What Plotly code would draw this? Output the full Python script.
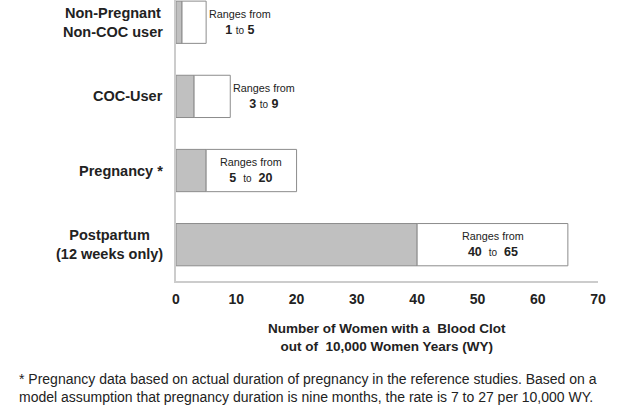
import plotly.graph_objects as go

# data
groups = ["Non-Pregnant<br>Non-COC user", "COC-User", "Pregnancy *",
          "Postpartum<br>(12 weeks only)"]
low = [1, 3, 5, 40]
high = [5, 9, 20, 65]
x_ticks = [0, 10, 20, 30, 40, 50, 60, 70]
label_inside = [False, False, True, True]

ypos = list(range(len(groups)))
extra = [h - l for l, h in zip(low, high)]

FONT = "Liberation Sans, Arial, sans-serif"

fig = go.Figure()
fig.add_trace(go.Bar(
    y=ypos, x=low, orientation="h", width=0.57,
    marker=dict(color="#c0c0c0", line=dict(color="#8c8c8c", width=1)),
    hoverinfo="skip"))
fig.add_trace(go.Bar(
    y=ypos, x=extra, base=low, orientation="h", width=0.57,
    marker=dict(color="#ffffff", line=dict(color="#8c8c8c", width=1)),
    hoverinfo="skip"))

# range labels
for i, (l, h) in enumerate(zip(low, high)):
    gap = "&nbsp; " if label_inside[i] else " "
    txt = ("<span style='font-size:10.8px'>Ranges from</span><br>"
           f"<b>{l}</b>{gap}<span style='font-size:10px'>to</span>{gap}<b>{h}</b>")
    if label_inside[i]:
        fig.add_annotation(x=(l + h) / 2, y=i, text=txt, showarrow=False,
                           xanchor="center", align="center",
                           font=dict(size=12.5, color="#222"))
    else:
        fig.add_annotation(x=h, y=i, text=txt, showarrow=False,
                           xanchor="left", xshift=1, align="center",
                           font=dict(size=12.5, color="#222"))

# category labels, centred lines
for i, g in enumerate(groups):
    fig.add_annotation(x=0, xref="paper", y=i, text=f"<b>{g}</b>",
                       showarrow=False, xanchor="right", xshift=-11,
                       align="center", font=dict(size=14.5, color="#222"))

# axis title
fig.add_annotation(x=0.5, xref="paper", y=-0.135, yref="paper",
                   text="<b>Number of Women with a  Blood Clot<br>"
                        "out of  10,000 Women Years (WY)</b>",
                   showarrow=False, xanchor="center", yanchor="top",
                   align="center", font=dict(size=13.5, color="#222"))

# footnote
fig.add_annotation(x=-0.377, xref="paper", y=-0.312, yref="paper",
                   text="* Pregnancy data based on actual duration of pregnancy in the "
                        "reference studies. Based on a<br>model assumption that pregnancy "
                        "duration is nine months, the rate is 7 to 27 per 10,000 WY.",
                   showarrow=False, xanchor="left", yanchor="top", align="left",
                   font=dict(size=14, color="#222"))

fig.update_layout(
    barmode="overlay",
    width=628, height=417,
    margin=dict(l=176, r=30, t=0, b=136),
    paper_bgcolor="white", plot_bgcolor="white",
    showlegend=False,
    font=dict(family=FONT, color="#222"),
    xaxis=dict(range=[0, 70], tickvals=x_ticks,
               ticktext=[f"<b>{t}</b>" for t in x_ticks],
               tickfont=dict(size=14), showgrid=False, zeroline=False,
               showline=True, linecolor="#cccccc", linewidth=1.5, ticks="",
               ticklabelstandoff=4),
    yaxis=dict(range=[3.49, -0.3], showticklabels=False, showgrid=False,
               zeroline=False, showline=True, linecolor="#cccccc",
               linewidth=1.5, ticks=""),
)

fig.write_html("out.html", config={"displayModeBar": False},
               post_script="document.body.style.margin='0';")
